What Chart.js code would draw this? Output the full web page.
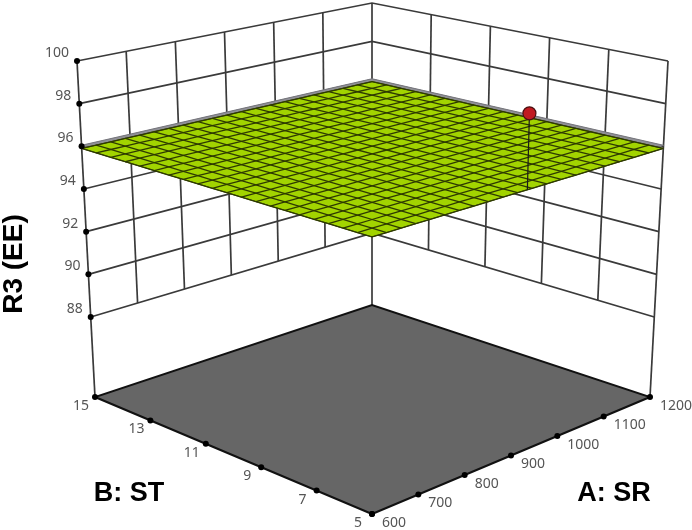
<!DOCTYPE html>
<html>
<head>
<meta charset="utf-8">
<title>R3 (EE)</title>
<script src="https://cdn.jsdelivr.net/npm/chart.js@4"></script>
<style>
    html, body { margin: 0; padding: 0; background: #fff; }
    canvas { display: block; }
</style>
</head>
<body>
<canvas id="chart" width="692" height="530"></canvas>
<script>
// values
const aTicks = [600, 700, 800, 900, 1000, 1100, 1200];
const bTicks = [5, 7, 9, 11, 13, 15];
const zTicks = [88, 90, 92, 94, 96, 98, 100];
const surfaceA = [600, 630, 660, 690, 720, 750, 780, 810, 840, 870, 900, 930, 960, 990, 1020, 1050, 1080, 1110, 1140, 1170, 1200];
const surfaceB = [5, 5.5, 6, 6.5, 7, 7.5, 8, 8.5, 9, 9.5, 10, 10.5, 11, 11.5, 12, 12.5, 13, 13.5, 14, 14.5, 15];
const surfaceZ = 95.9;
const upperZ = 96.05;
const pointA = [920];
const pointB = [5];
const pointZ = [99.3];

const zFloor = 84.25;
const zTop = 100;

// screen position of the 8 box corners, the box is warped between them
const box = {
    front: [[372, 514], [372, 139.5]],
    right: [[650, 397], [668, 61]],
    left: [[95, 397], [77, 61]],
    back: [[372, 305], [372, 3]]
};

function project(a, b, z) {
    const u = (a - 600) / 600;
    const v = (b - 5) / 10;
    const w = (z - zFloor) / (zTop - zFloor);
    const out = [0, 0].map((_, i) => {
        const lo = box.front[0][i] * (1 - u) * (1 - v) + box.right[0][i] * u * (1 - v) +
            box.left[0][i] * (1 - u) * v + box.back[0][i] * u * v;
        const hi = box.front[1][i] * (1 - u) * (1 - v) + box.right[1][i] * u * (1 - v) +
            box.left[1][i] * (1 - u) * v + box.back[1][i] * u * v;
        return lo * (1 - w) + hi * w;
    });
    return { x: out[0], y: out[1] };
}

const datasets = [];

// first pushed gets painted first
function addLine(points, color, width) {
    datasets.push({
        data: points, showLine: true, borderColor: color, borderWidth: width,
        pointRadius: 0, fill: false, tension: 0, order: 1000 - datasets.length
    });
}

function addShape(points, color, line, width) {
    datasets.push({
        data: points.concat([points[0]]), showLine: true, backgroundColor: color,
        borderColor: line, borderWidth: width, pointRadius: 0, fill: "shape",
        tension: 0, order: 1000 - datasets.length
    });
}

function addDots(points, color, radius, edge, edgeWidth) {
    datasets.push({
        data: points, showLine: false, pointRadius: radius, pointBackgroundColor: color,
        pointBorderColor: edge, pointBorderWidth: edgeWidth, order: 1000 - datasets.length
    });
}

const wallColor = "#3a3a3a";

// walls
zTicks.forEach(z => {
    addLine([project(600, 15, z), project(1200, 15, z), project(1200, 5, z)], wallColor, 1.7);
});
aTicks.slice(1, -1).forEach(a => {
    addLine([project(a, 15, 88), project(a, 15, 100)], wallColor, 1.7);
});
bTicks.slice(1, -1).forEach(b => {
    addLine([project(1200, b, 88), project(1200, b, 100)], wallColor, 1.7);
});
addLine([project(600, 15, zFloor), project(600, 15, 100)], wallColor, 1.7);
addLine([project(1200, 15, zFloor), project(1200, 15, 100)], wallColor, 1.7);
addLine([project(1200, 5, zFloor), project(1200, 5, 100)], wallColor, 1.7);

// floor
addShape([project(600, 5, zFloor), project(1200, 5, zFloor), project(1200, 15, zFloor), project(600, 15, zFloor)],
    "#666666", "#111111", 2);

// gray rim behind the surface
addShape([project(600, 5, upperZ), project(1200, 5, upperZ), project(1200, 15, upperZ), project(600, 15, upperZ)],
    "#8f8f96", "#77777d", 1);

// surface
addShape([project(600, 5, surfaceZ), project(1200, 5, surfaceZ), project(1200, 15, surfaceZ), project(600, 15, surfaceZ)],
    "#a2d400", "#3c4a00", 1);
surfaceA.forEach(a => {
    addLine(surfaceB.map(b => project(a, b, surfaceZ)), "#2e3a00", 1.3);
});
surfaceB.forEach(b => {
    addLine(surfaceA.map(a => project(a, b, surfaceZ)), "#2e3a00", 1.3);
});

// design point and its stem
addLine([project(pointA[0], pointB[0], surfaceZ), project(pointA[0], pointB[0], pointZ[0])], "#1a1a1a", 1.2);
addDots(pointA.map((a, i) => project(a, pointB[i], pointZ[i])), "#c01a20", 6.5, "#4a1010", 1.2);

// axis ticks
addDots(zTicks.map(z => project(600, 15, z)), "#000000", 3, "#000000", 0);
addDots(aTicks.map(a => project(a, 5, zFloor)), "#000000", 3, "#000000", 0);
addDots(bTicks.map(b => project(600, b, zFloor)), "#000000", 3, "#000000", 0);

const labelsPlugin = {
    id: "labels",
    afterDatasetsDraw(chart) {
        const ctx = chart.ctx;
        ctx.save();
        ctx.fillStyle = "#555555";
        ctx.font = '14px "Noto Sans"';
        ctx.textBaseline = "middle";

        ctx.textAlign = "right";
        zTicks.forEach(z => {
            const p = project(600, 15, z);
            ctx.fillText(String(z), p.x - 8, p.y - 8);
        });
        ctx.textAlign = "center";
        bTicks.forEach(b => {
            const p = project(600, b, zFloor);
            ctx.fillText(String(b), p.x - 14, p.y + 9);
        });
        ctx.textAlign = "left";
        aTicks.forEach(a => {
            const p = project(a, 5, zFloor);
            ctx.fillText(String(a), p.x + 10, p.y + 9);
        });

        ctx.fillStyle = "#000000";
        ctx.font = 'bold 27px "Liberation Sans"';
        ctx.textAlign = "center";
        ctx.fillText("B: ST", 129, 494);
        ctx.fillText("A: SR", 614, 494);

        ctx.translate(14, 264);
        ctx.rotate(-Math.PI / 2);
        ctx.font = 'bold 28px "Liberation Sans"';
        ctx.fillText("R3 (EE)", 0, 0);
        ctx.restore();
    }
};

new Chart(document.getElementById("chart"), {
    type: "scatter",
    data: { datasets: datasets },
    options: {
        responsive: false,
        animation: false,
        layout: { padding: 0, autoPadding: false },
        plugins: { legend: { display: false }, tooltip: { enabled: false } },
        scales: {
            x: { type: "linear", min: 0, max: 692, display: false },
            y: { type: "linear", min: 0, max: 530, reverse: true, display: false }
        }
    },
    plugins: [labelsPlugin]
});
</script>
</body>
</html>
